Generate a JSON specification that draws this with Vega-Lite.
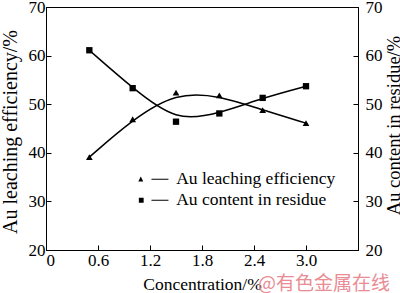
{
  "$schema": "https://vega.github.io/schema/vega-lite/v6.json",
  "width": 312,
  "height": 243,
  "autosize": {"type": "none"},
  "padding": {"left": 46, "top": 7, "right": 42, "bottom": 43},
  "background": "white",
  "config": {
    "font": "Liberation Serif",
    "view": {"stroke": "black", "strokeWidth": 1},
    "axis": {
      "labelFont": "Liberation Serif",
      "titleFont": "Liberation Serif",
      "labelFontSize": 17,
      "titleFontSize": 17.5,
      "titleFontWeight": "normal",
      "labelColor": "black",
      "titleColor": "black",
      "domainColor": "black",
      "tickColor": "black",
      "grid": false,
      "tickSize": -5
    }
  },
  "title": {
    "text": "@有色金属在线",
    "orient": "bottom",
    "anchor": "end",
    "frame": "group",
    "color": "#e98c94",
    "font": "Noto Sans CJK SC",
    "fontSize": 19,
    "fontWeight": "normal",
    "offset": -18,
    "dx": 32
  },
  "data": {
    "values": [
      {"conc": 0.5, "value": 39.1, "series": "Au leaching efficiency"},
      {"conc": 1.0, "value": 46.9, "series": "Au leaching efficiency"},
      {"conc": 1.5, "value": 52.4, "series": "Au leaching efficiency"},
      {"conc": 2.0, "value": 51.8, "series": "Au leaching efficiency"},
      {"conc": 2.5, "value": 48.8, "series": "Au leaching efficiency"},
      {"conc": 3.0, "value": 46.1, "series": "Au leaching efficiency"},
      {"conc": 0.5, "value": 61.1, "series": "Au content in residue"},
      {"conc": 1.0, "value": 53.3, "series": "Au content in residue"},
      {"conc": 1.5, "value": 46.4, "series": "Au content in residue"},
      {"conc": 2.0, "value": 48.1, "series": "Au content in residue"},
      {"conc": 2.5, "value": 51.3, "series": "Au content in residue"},
      {"conc": 3.0, "value": 53.7, "series": "Au content in residue"}
    ]
  },
  "encoding": {
    "x": {
      "field": "conc",
      "type": "quantitative",
      "scale": {"domain": [0, 3.6], "nice": false},
      "axis": {
        "title": "Concentration/%",
        "values": [0, 0.6, 1.2, 1.8, 2.4, 3.0],
        "labelExpr": "datum.value == 0 ? '0' : format(datum.value, '.1f')",
        "labelPadding": 7,
        "titlePadding": 7
      }
    }
  },
  "layer": [
    {
      "encoding": {
        "y": {
          "field": "value",
          "type": "quantitative",
          "scale": {"domain": [20, 70], "nice": false},
          "axis": {
            "orient": "left",
            "title": "Au leaching efficiency/%",
            "values": [20, 30, 40, 50, 60, 70],
            "labelPadding": 6,
            "titleFontSize": 20,
            "titleAngle": 270,
            "titleBaseline": "alphabetic",
            "titleAlign": "center",
            "titleX": -30,
            "titleY": 124.5
          }
        }
      },
      "layer": [
        {
          "transform": [{"filter": "datum.series === 'Au leaching efficiency'"}],
          "mark": {"type": "line", "interpolate": "basis", "color": "black", "strokeWidth": 1.5}
        },
        {
          "transform": [{"filter": "datum.series === 'Au leaching efficiency'"}],
          "mark": {"type": "point", "shape": "triangle-up", "filled": true, "color": "black", "size": 45, "opacity": 1}
        },
        {
          "mark": {"type": "point", "filled": true, "color": "black", "opacity": 0},
          "encoding": {
            "shape": {
              "field": "series",
              "type": "nominal",
              "scale": {
                "domain": ["Au leaching efficiency", "Au content in residue"],
                "range": [
                  "M-2.77,0.28L-2.46,-0.35L-2.15,0.28Z M-1.125,-0.06H1V0.06H-1.125Z",
                  "M-2.7,-0.3H-2.1V0.3H-2.7Z M-1.125,-0.06H1V0.06H-1.125Z"
                ]
              },
              "legend": {
                "orient": "none",
                "legendX": 105.7,
                "legendY": 163.5,
                "title": null,
                "padding": 0,
                "symbolSize": 256,
                "symbolOpacity": 1,
                "symbolFillColor": "black",
                "symbolStrokeWidth": 0,
                "labelFont": "Liberation Serif",
                "labelFontSize": 17.5,
                "labelColor": "black",
                "labelOffset": 7,
                "rowPadding": 2,
                "labelLimit": 300
              }
            }
          }
        }
      ]
    },
    {
      "encoding": {
        "y": {
          "field": "value",
          "type": "quantitative",
          "scale": {"domain": [20, 70], "nice": false},
          "axis": {
            "orient": "right",
            "title": "Au content in residue/%",
            "values": [20, 30, 40, 50, 60, 70],
            "labelPadding": 12,
            "titleFontSize": 18.5,
            "titleAngle": 270,
            "titleBaseline": "alphabetic",
            "titleAlign": "center",
            "titleX": 41,
            "titleY": 118
          }
        }
      },
      "layer": [
        {
          "transform": [{"filter": "datum.series === 'Au content in residue'"}],
          "mark": {"type": "line", "interpolate": "basis", "color": "black", "strokeWidth": 1.5}
        },
        {
          "transform": [{"filter": "datum.series === 'Au content in residue'"}],
          "mark": {"type": "point", "shape": "square", "filled": true, "color": "black", "size": 40, "opacity": 1}
        }
      ]
    }
  ],
  "resolve": {"scale": {"y": "independent"}}
}
